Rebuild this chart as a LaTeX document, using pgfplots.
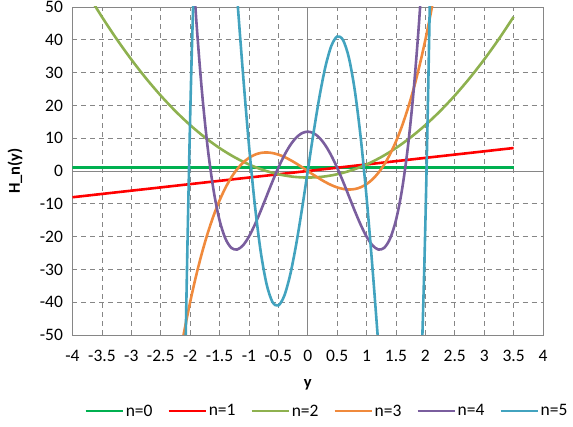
\documentclass[border=0pt]{standalone}
\usepackage{pgfplots}
\pgfplotsset{compat=1.18}
\usepackage{fontspec}
\setmainfont{Carlito}
\definecolor{c0}{HTML}{00B050}
\definecolor{c1}{HTML}{FF0000}
\definecolor{c2}{HTML}{8EB14F}
\definecolor{c3}{HTML}{F08A3C}
\definecolor{c4}{HTML}{7A5E9E}
\definecolor{c5}{HTML}{42A3BF}
\definecolor{gridc}{HTML}{868686}
\begin{document}
\begin{tikzpicture}
\path[use as bounding box] (-72.5pt,-91pt) rectangle (500.5pt,335pt);
\begin{axis}[
  scale only axis, width=470.5pt, height=328pt,
  at={(0pt,0pt)}, anchor=south west,
  xmin=-4, xmax=4, ymin=-50, ymax=50,
  xtick={-4,-3.5,-3,-2.5,-2,-1.5,-1,-0.5,0,0.5,1,1.5,2,2.5,3,3.5,4},
  ytick={-50,-40,-30,-20,-10,0,10,20,30,40,50},
  grid=major,
  major grid style={gridc, line width=0.8pt, dash pattern=on 5pt off 4pt},
  axis line style={gridc, line width=0.8pt},
  major tick length=0pt,
  tick label style={font=\fontsize{17.5}{20}\selectfont, /pgf/number format/assume math mode=true},
  xticklabel style={yshift=-12pt},
  yticklabel style={xshift=-6pt},
  extra x ticks={0}, extra x tick labels={},
  extra y ticks={0}, extra y tick labels={},
  extra tick style={major grid style={solid, gridc, line width=0.9pt}},
  xlabel={\textbf{y}}, ylabel={\textbf{H\_n(y)}},
  xlabel style={at={(axis description cs:0.5,-0.152)}, anchor=center, font=\fontsize{16.5}{19}\selectfont},
  ylabel style={at={(axis description cs:-0.122,0.5)}, anchor=center, rotate=0, font=\fontsize{16.5}{19}\selectfont},
  legend columns=-1,
  legend style={at={(axis description cs:0.541,-0.232)}, anchor=center, draw=none, fill=none,
    font=\fontsize{17.5}{20}\selectfont,
    /tikz/every odd column/.style={column sep=0pt},
    /tikz/every even column/.style={column sep=13pt}},
  legend image code/.code={\draw[#1, line width=2.2pt] (0pt,0pt) -- (37pt,0pt);},
  every axis plot/.append style={line width=2.6pt, no marks},
]
\addplot[c0] coordinates {(-4,1) (3.5,1)};
\addlegendentry{n=0}
\addplot[c1] coordinates {(-4,-8) (3.5,7)};
\addlegendentry{n=1}
\addplot[c2, smooth] coordinates {
(-4,62) (-3.75,54.25) (-3.5,47) (-3.25,40.25) (-3,34) (-2.75,28.25) (-2.5,23) (-2.25,18.25)
(-2,14) (-1.75,10.25) (-1.5,7) (-1.25,4.25) (-1,2) (-0.75,0.25) (-0.5,-1) (-0.25,-1.75)
(0,-2) (0.25,-1.75) (0.5,-1) (0.75,0.25) (1,2) (1.25,4.25) (1.5,7) (1.75,10.25) (2,14)
(2.25,18.25) (2.5,23) (2.75,28.25) (3,34) (3.25,40.25) (3.5,47)};
\addlegendentry{n=2}
\addplot[c3, smooth] coordinates {
(-2.3,-69.736) (-2.2,-58.784) (-2.1,-48.888) (-2,-40) (-1.9,-32.072) (-1.8,-25.056)
(-1.7,-18.904) (-1.6,-13.568) (-1.5,-9) (-1.4,-5.152) (-1.3,-1.976) (-1.2,0.576)
(-1.1,2.552) (-1,4) (-0.9,4.968) (-0.8,5.504) (-0.7,5.656) (-0.6,5.472) (-0.5,5)
(-0.4,4.288) (-0.3,3.384) (-0.2,2.336) (-0.1,1.192) (0,0)
(0.1,-1.192) (0.2,-2.336) (0.3,-3.384) (0.4,-4.288) (0.5,-5) (0.6,-5.472) (0.7,-5.656)
(0.8,-5.504) (0.9,-4.968) (1,-4) (1.1,-2.552) (1.2,-0.576) (1.3,1.976) (1.4,5.152)
(1.5,9) (1.6,13.568) (1.7,18.904) (1.8,25.056) (1.9,32.072) (2,40) (2.1,48.888)
(2.2,58.784) (2.3,69.736)};
\addlegendentry{n=3}
\addplot[c4, smooth] coordinates {
(-2.1,111.49) (-2,76) (-1.9,47.2336) (-1.8,24.4416) (-1.7,6.9136) (-1.6,-6.0224)
(-1.5,-15) (-1.4,-20.6144) (-1.3,-23.4224) (-1.2,-23.9424) (-1.1,-22.6544) (-1,-20)
(-0.9,-16.3824) (-0.8,-12.1664) (-0.7,-7.6784) (-0.6,-3.2064) (-0.5,1) (-0.4,4.7296)
(-0.3,7.8096) (-0.2,10.1056) (-0.1,11.5216) (0,12)
(0.1,11.5216) (0.2,10.1056) (0.3,7.8096) (0.4,4.7296) (0.5,1) (0.6,-3.2064)
(0.7,-7.6784) (0.8,-12.1664) (0.9,-16.3824) (1,-20) (1.1,-22.6544) (1.2,-23.9424)
(1.3,-23.4224) (1.4,-20.6144) (1.5,-15) (1.6,-6.0224) (1.7,6.9136) (1.8,24.4416)
(1.9,47.2336) (2,76) (2.1,111.49)};
\addlegendentry{n=4}
\addplot[c5, smooth] coordinates {
(-2.2,-209.48) (-2.1,-77.15) (-2,16) (-1.9,77.09) (-1.8,112.46) (-1.7,127.73)
(-1.6,127.82) (-1.5,117) (-1.4,98.94) (-1.3,76.71) (-1.2,52.85) (-1.1,29.42) (-1,8)
(-0.9,-10.26) (-0.8,-24.57) (-0.7,-34.50) (-0.6,-39.93) (-0.5,-41) (-0.4,-38.09)
(-0.3,-31.76) (-0.2,-22.73) (-0.1,-11.84) (0,0)
(0.1,11.84) (0.2,22.73) (0.3,31.76) (0.4,38.09) (0.5,41) (0.6,39.93) (0.7,34.50)
(0.8,24.57) (0.9,10.26) (1,-8) (1.1,-29.42) (1.2,-52.85) (1.3,-76.71) (1.4,-98.94)
(1.5,-117) (1.6,-127.82) (1.7,-127.73) (1.8,-112.46) (1.9,-77.09) (2,-16) (2.1,77.15)
(2.2,209.48)};
\addlegendentry{n=5}
\end{axis}
\end{tikzpicture}
\end{document}
